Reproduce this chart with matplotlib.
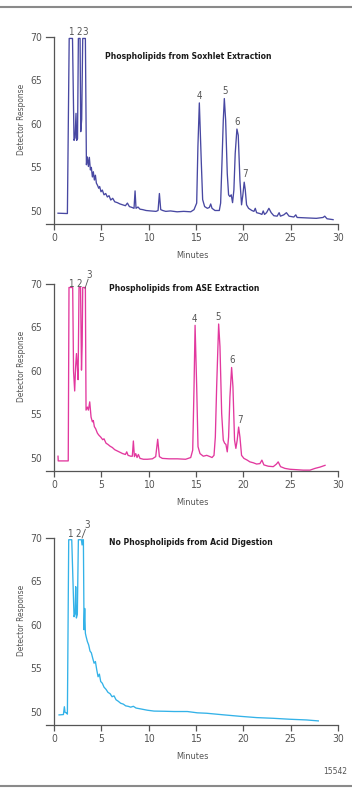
import matplotlib
matplotlib.use("Agg")
import matplotlib.pyplot as plt
from matplotlib.lines import Line2D

plt.rcParams['font.family'] = ['DejaVu Sans']
plt.rcParams['font.stretch'] = 'condensed'

# ---------------- data ----------------
minutes_ticks = [0, 5, 10, 15, 20, 25, 30]
response_ticks = [50, 55, 60, 65, 70]

soxhlet_time = [0.42, 1.41, 1.60, 1.95, 2.11, 2.22, 2.32, 2.39, 2.48, 2.57, 2.75, 2.82, 2.92, 3.03, 3.31,
                3.42, 3.52, 3.63, 3.73, 3.84, 3.94, 4.05, 4.15, 4.26, 4.37, 4.47, 4.61, 4.72, 4.82, 4.96,
                5.10, 5.28, 5.46, 5.63, 5.81, 5.99, 6.20, 6.41, 6.69, 6.97, 7.25, 7.54, 7.75, 7.96, 8.24,
                8.45, 8.56, 8.66, 8.87, 9.08, 9.37, 9.72, 10.20, 10.77, 10.99, 11.13, 11.27, 11.48, 11.80,
                12.30, 13.00, 13.70, 14.44, 14.79, 15.07, 15.20, 15.35, 15.56, 15.70, 15.91, 16.20, 16.41,
                16.55, 16.69, 17.00, 17.46, 17.60, 17.74, 17.88, 17.99, 18.13, 18.30, 18.44, 18.58, 18.72,
                18.86, 19.00, 19.14, 19.32, 19.46, 19.64, 19.81, 19.95, 20.09, 20.20, 20.34, 20.55, 20.90,
                21.12, 21.26, 21.40, 21.75, 21.96, 22.10, 22.24, 22.45, 22.70, 22.94, 23.22, 23.57, 23.78,
                23.92, 24.27, 24.55, 24.83, 25.33, 25.54, 25.68, 26.66, 27.71, 28.42, 28.60, 28.84, 29.48]
soxhlet_resp = [49.74, 49.70, 69.8, 69.8, 58.1, 58.4, 61.2, 58.1, 58.3, 69.8, 69.8, 59.1, 60.5, 69.8, 69.8,
                55.3, 56.2, 55.1, 56.15, 54.7, 55.0, 53.9, 54.5, 53.55, 54.1, 53.2, 52.9, 52.6, 52.8, 52.2,
                52.4, 51.85, 52.0, 51.6, 51.75, 51.25, 51.45, 51.05, 50.95, 50.8, 50.7, 50.6, 50.9, 50.5, 50.4,
                50.3, 52.3, 50.3, 50.45, 50.2, 50.15, 50.05, 50.0, 49.95, 50.05, 52.0, 50.15, 50.05, 49.95,
                50.0, 49.9, 49.95, 49.9, 50.15, 50.9, 57.4, 62.4, 55.5, 51.3, 50.5, 50.3, 50.4,
                50.8, 50.3, 50.05, 50.05, 50.9, 55.5, 60.4, 62.9, 60.4, 54.3, 51.85, 51.65, 51.85,
                50.95, 52.4, 56.6, 59.4, 58.7, 53.5, 50.7, 51.85, 53.3, 52.45, 50.7, 50.3, 50.05,
                49.95, 50.3, 49.8, 49.7, 49.6, 50.0, 49.6, 49.8, 50.3, 49.8, 49.45, 49.4, 49.8,
                49.4, 49.55, 49.8, 49.4, 49.3, 49.55, 49.25, 49.2, 49.15, 49.25, 49.4, 49.1, 49.0]

ase_time = [0.42, 0.44, 1.50, 1.58, 1.97, 2.06, 2.18, 2.28, 2.37, 2.46, 2.54, 2.64, 2.80, 2.90, 2.97, 3.03,
            3.31, 3.38, 3.52, 3.63, 3.77, 3.91, 4.05, 4.15, 4.26, 4.40, 4.58, 4.75, 4.93, 5.14, 5.28, 5.49,
            5.70, 5.92, 6.16, 6.41, 6.69, 6.97, 7.25, 7.54, 7.68, 7.82, 8.10, 8.27, 8.38, 8.49, 8.63, 8.77,
            8.91, 9.08, 9.44, 9.86, 10.39, 10.74, 10.95, 11.13, 11.44, 12.15, 13.03, 13.90, 14.44, 14.65,
            14.79, 14.90, 15.07, 15.21, 15.42, 15.77, 16.13, 16.48, 16.69, 16.90, 17.04, 17.18, 17.39,
            17.53, 17.71, 17.88, 18.02, 18.16, 18.30, 18.44, 18.58, 18.76, 18.90, 19.07, 19.21, 19.35,
            19.50, 19.64, 19.81, 20.06, 20.41, 20.69, 21.04, 21.40, 21.75, 21.96, 22.17, 22.63, 23.16,
            23.50, 23.68, 23.93, 24.39, 24.92, 25.62, 26.33, 27.04, 27.57, 28.10, 28.63]
ase_resp = [50.2, 49.66, 49.66, 69.6, 69.6, 60.0, 57.7, 60.5, 62.0, 60.5, 59.0, 69.6, 69.6, 60.1, 63.0, 69.6,
            69.6, 55.5, 55.85, 55.5, 56.45, 54.7, 54.15, 54.3, 53.6, 53.35, 52.85, 52.6, 52.4, 52.1, 52.2, 51.7,
            51.55, 51.35, 51.2, 50.95, 50.8, 50.65, 50.5, 50.4, 50.7, 50.3, 50.2, 50.2, 51.95, 50.15, 50.5, 50.05,
            50.4, 49.95, 49.85, 49.85, 49.9, 50.15, 52.15, 50.15, 49.95, 49.9, 49.9, 49.85, 50.05, 50.9,
            58.2, 65.25, 58.2, 51.3, 50.5, 50.2, 50.3, 50.15, 50.05, 50.3, 52.4, 58.2, 65.4,
            62.8, 55.1, 52.05, 51.7, 51.55, 50.7, 52.4, 57.0, 60.4, 58.2, 52.05, 51.1, 52.05,
            53.55, 52.4, 50.3, 49.95, 49.75, 49.55, 49.45, 49.3, 49.35, 49.75, 49.2, 49.05, 49.0,
            49.3, 49.55, 49.0, 48.8, 48.7, 48.65, 48.6, 48.6, 48.8, 48.95, 49.15]

acid_time = [0.53, 0.99, 1.09, 1.16, 1.30, 1.41, 1.55, 1.87, 2.11, 2.22, 2.29, 2.36, 2.46, 2.57, 2.89, 2.96,
             3.03, 3.10, 3.17, 3.24, 3.31, 3.38, 3.52, 3.66, 3.80, 3.94, 4.08, 4.23, 4.37, 4.51, 4.65, 4.79,
             4.93, 5.10, 5.28, 5.49, 5.70, 5.92, 6.13, 6.34, 6.55, 6.76, 7.04, 7.32, 7.57, 7.82, 8.10, 8.38,
             8.66, 9.15, 9.86, 10.56, 11.62, 12.68, 14.08, 15.14, 16.13, 17.89, 19.65, 21.41, 23.17, 24.93,
             26.69, 27.92]
acid_resp = [49.66, 49.7, 50.6, 49.95, 49.9, 49.75, 69.8, 69.8, 60.95, 61.3, 64.4, 60.8, 61.2, 69.8, 69.8, 69.2,
             69.8, 69.8, 59.45, 61.9, 59.05, 58.7, 58.1, 57.7, 57.0, 56.8, 56.2, 55.6, 55.8, 54.85, 54.05, 54.35,
             53.5, 53.3, 52.85, 52.6, 52.25, 52.1, 51.75, 51.85, 51.4, 51.25, 51.0, 50.9, 50.7, 50.65, 50.55, 50.65,
             50.45, 50.35, 50.2, 50.1, 50.08, 50.05, 50.05, 49.9, 49.85, 49.67, 49.5, 49.35, 49.27, 49.16,
             49.08, 48.97]

titles = ["Phospholipids from Soxhlet Extraction",
          "Phospholipids from ASE Extraction",
          "No Phospholipids from Acid Digestion"]
colors = ["#4848a2", "#e2389e", "#33b2e8"]

# peak labels (text, minutes, response)
labels_sox = [("1", 1.73, 70.5), ("2", 2.64, 70.5), ("3", 3.31, 70.5),
              ("4", 15.32, 63.2), ("5", 18.03, 63.8), ("6", 19.32, 60.2), ("7", 20.17, 54.2)]
labels_ase = [("1", 1.80, 70.0), ("2", 2.68, 70.0), ("3", 3.70, 71.0),
              ("4", 14.82, 66.0), ("5", 17.36, 66.2), ("6", 18.80, 61.3), ("7", 19.65, 54.4)]
labels_acid = [("1", 1.62, 70.5), ("2", 2.50, 70.5), ("3", 3.45, 71.5)]
leader_ase = [(3.27, 69.5), (3.60, 70.55)]
leader_acid = [(2.96, 70.0), (3.31, 71.0)]
title_pos = [(14.15, 67.7), (13.7, 69.5), (14.5, 69.5)]

# ---------------- figure ----------------
W, H = 352, 788
fig = plt.figure(figsize=(W / 100, H / 100), dpi=100)

panels = [
    (soxhlet_time, soxhlet_resp, labels_sox, None, 224, 36.7),
    (ase_time, ase_resp, labels_ase, leader_ase, 471, 284),
    (acid_time, acid_resp, labels_acid, leader_acid, 725, 538),
]

axis_col = "#555555"
text_col = "#555555"
XMIN = -0.85

for i, (tx, ry, labs, leader, ybot, ytop) in enumerate(panels):
    ax = fig.add_axes([46 / W, 1 - ybot / H, 292 / W, (ybot - ytop) / H])
    ax.plot(tx, ry, color=colors[i], lw=0.95, solid_joinstyle='round')
    ax.set_xlim(XMIN, 30)
    ax.set_ylim(48.5, 70)
    ax.spines['top'].set_visible(False)
    ax.spines['right'].set_visible(False)
    ax.spines['left'].set_position(('data', 0))
    for s in ('left', 'bottom'):
        ax.spines[s].set_color(axis_col)
        ax.spines[s].set_linewidth(0.9)
    ax.set_xticks(minutes_ticks)
    ax.set_yticks(response_ticks)
    ax.tick_params(axis='x', length=4.3, width=0.9, color=axis_col, labelsize=7.5,
                   labelcolor=text_col, pad=2.5)
    ax.tick_params(axis='y', length=0, labelsize=7.5, labelcolor=text_col, pad=8.8)
    ax.plot([XMIN, 0], [70, 70], color=axis_col, lw=0.9, clip_on=False)
    ax.set_xlabel("Minutes", fontsize=6.6, color=text_col)
    ax.xaxis.set_label_coords(0.5, -0.145)
    ax.set_ylabel("Detector Response", fontsize=6.0, color=text_col)
    ax.yaxis.set_label_coords(-0.07, 0.56)
    ax.text(title_pos[i][0], title_pos[i][1], titles[i], fontsize=6.1, fontweight='bold',
            color="#1a1a1a", ha='center', va='center')
    for txt, x, y in labs:
        ax.text(x, y, txt, fontsize=7, color=text_col, ha='center', va='center', clip_on=False)
    if leader is not None:
        ax.plot([leader[0][0], leader[1][0]], [leader[0][1], leader[1][1]],
                color=text_col, lw=0.6, clip_on=False)

fig.add_artist(Line2D([0, 1], [1 - 7 / H, 1 - 7 / H], color="#8a8a8a", lw=1.5))
fig.add_artist(Line2D([0, 1], [2 / H, 2 / H], color="#8a8a8a", lw=1.5))
fig.text(335 / W, 1 - 771 / H, "15542", fontsize=6, color=text_col, ha='center', va='center')

fig.savefig("out.png", dpi=100)
